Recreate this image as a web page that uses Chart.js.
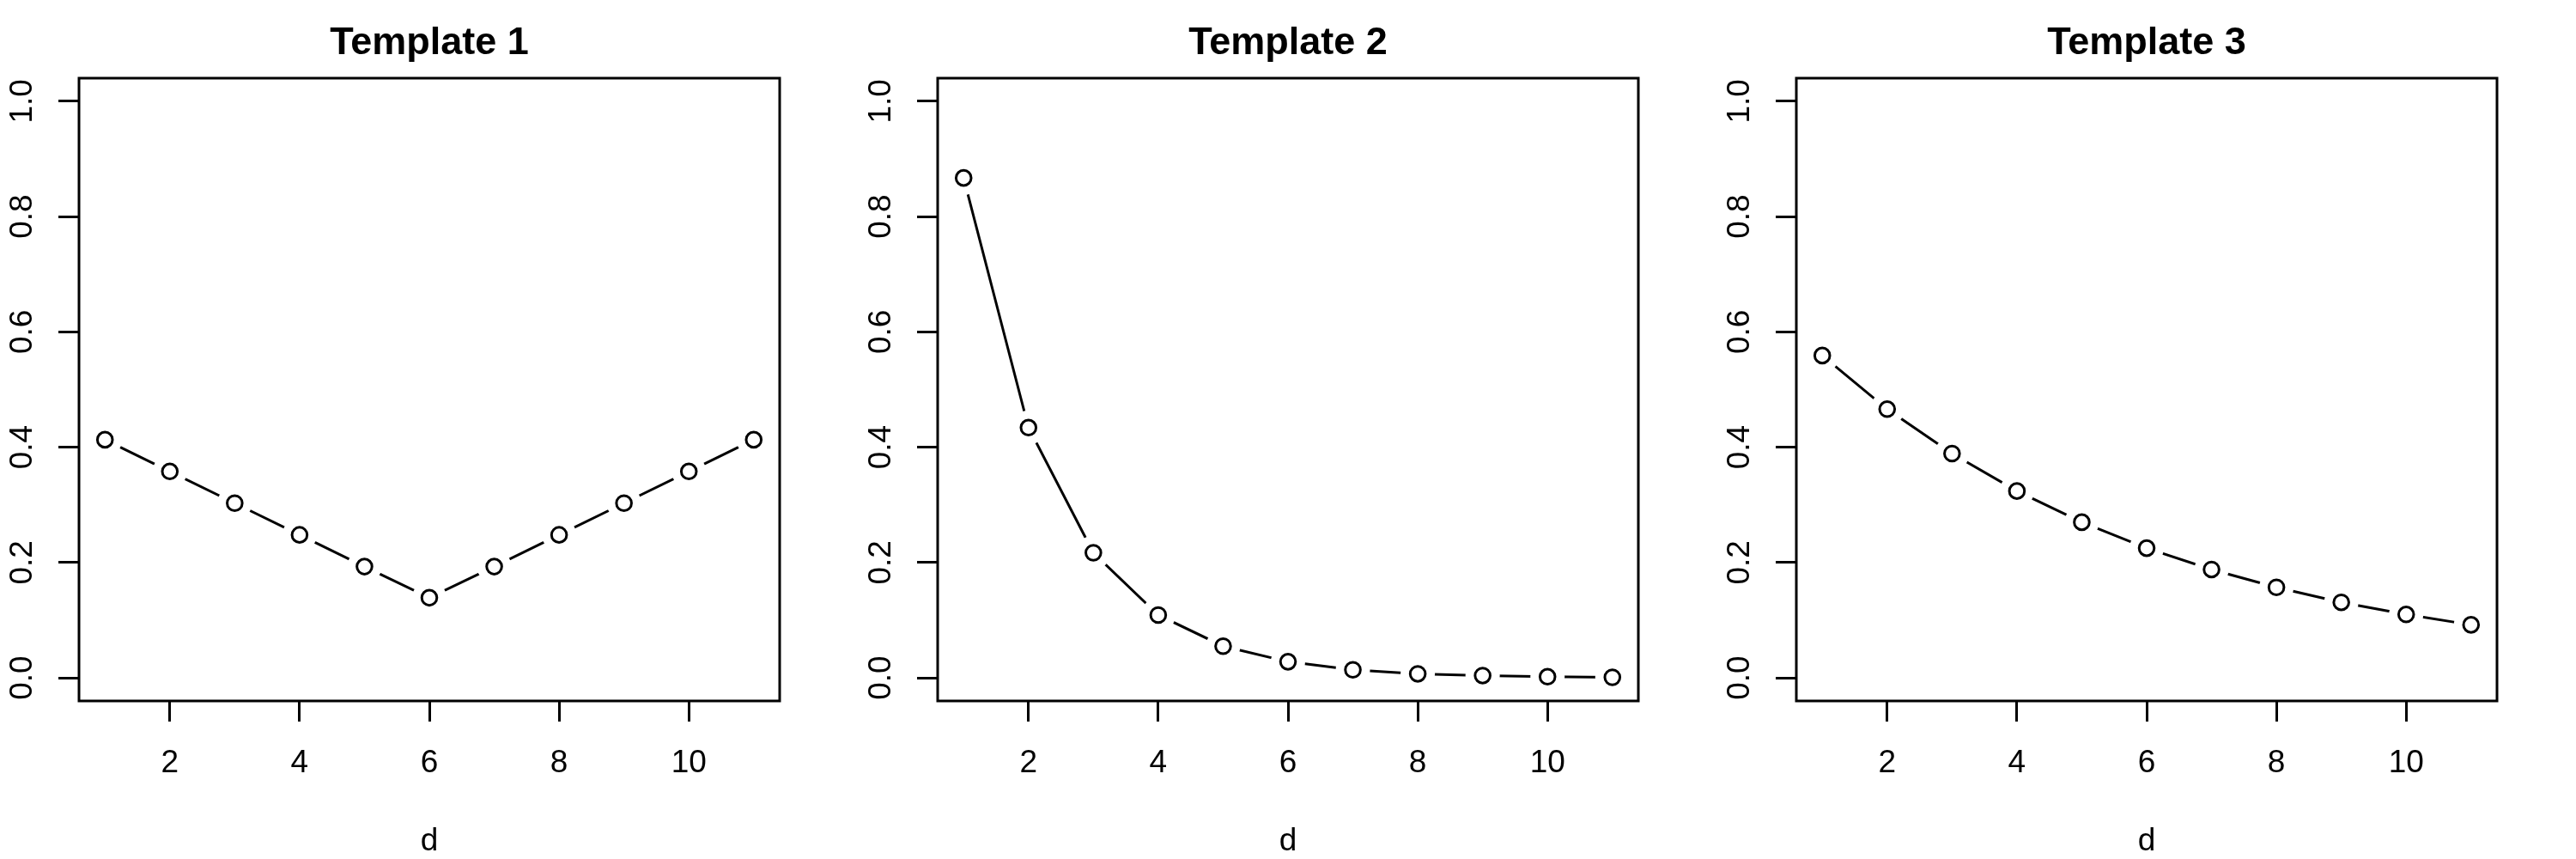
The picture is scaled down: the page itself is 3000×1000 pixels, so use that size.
<!DOCTYPE html>
<html>
<head>
<meta charset="utf-8">
<script src="https://cdn.jsdelivr.net/npm/chart.js@4.4.1/dist/chart.umd.min.js"></script>
<style>
  html, body { margin: 0; padding: 0; background: #fff; }
  .row { display: flex; width: 3000px; height: 1000px; }
  .row canvas { display: block; }
</style>
</head>
<body>
<div class="row">
  <canvas id="chart1" width="1000" height="1000"></canvas>
  <canvas id="chart2" width="1000" height="1000"></canvas>
  <canvas id="chart3" width="1000" height="1000"></canvas>
</div>
<script>
const dValues = [1, 2, 3, 4, 5, 6, 7, 8, 9, 10, 11];

const template1 = [0.413, 0.358, 0.303, 0.248, 0.193, 0.139, 0.193, 0.248, 0.303, 0.358, 0.413];
const template2 = [0.867, 0.434, 0.217, 0.109, 0.055, 0.028, 0.014, 0.007, 0.004, 0.002, 0.001];
const template3 = [0.559, 0.466, 0.389, 0.324, 0.270, 0.225, 0.188, 0.157, 0.131, 0.110, 0.092];

const titles = ["Template 1", "Template 2", "Template 3"];
const xLabel = "d";

const xTicks = [2, 4, 6, 8, 10];
const yTicks = [0, 0.2, 0.4, 0.6, 0.8, 1.0];
const yTickLabels = ["0.0", "0.2", "0.4", "0.6", "0.8", "1.0"];

const FONT = '"Liberation Sans", Arial, Helvetica, sans-serif';

// box, title and tick labels the way base R draws them
const rAxesPlugin = {
  id: "rAxes",
  afterDraw(chart) {
    const ctx = chart.ctx;
    const area = chart.chartArea;
    const xs = chart.scales.x;
    const ys = chart.scales.y;
    const midX = (area.left + area.right) / 2;

    ctx.save();
    ctx.strokeStyle = "#000";
    ctx.lineWidth = 3;
    ctx.strokeRect(area.left, area.top, area.right - area.left, area.bottom - area.top);

    ctx.fillStyle = "#000";

    ctx.font = "bold 45px " + FONT;
    ctx.textAlign = "center";
    ctx.textBaseline = "alphabetic";
    ctx.fillText(chart.options.plugins.rAxes.title, midX, 63);

    ctx.font = "37px " + FONT;
    xTicks.forEach(v => {
      ctx.fillText(String(v), xs.getPixelForValue(v), 899);
    });

    ctx.fillText(xLabel, midX, 990);

    yTicks.forEach((v, i) => {
      ctx.save();
      ctx.translate(37, ys.getPixelForValue(v));
      ctx.rotate(-Math.PI / 2);
      ctx.fillText(yTickLabels[i], 0, 0);
      ctx.restore();
    });

    ctx.restore();
  }
};


function drawTemplate(canvasId, title, values) {
  const canvas = document.getElementById(canvasId);
  if (!canvas) return;

  const points = dValues.map((d, i) => ({ x: d, y: values[i] }));

  return new Chart(canvas, {
    type: "scatter",
    data: {
      datasets: [
        {
          data: points,
          showLine: true,
          borderColor: "#000",
          borderWidth: 3,
          pointRadius: 0,
          order: 3
        },
        {
          // white halo so the line stops short of each circle
          data: points,
          showLine: false,
          pointRadius: 20,
          pointBorderWidth: 0,
          pointBackgroundColor: "#fff",
          order: 2
        },
        {
          data: points,
          showLine: false,
          pointRadius: 8.8,
          pointBorderWidth: 3,
          pointBorderColor: "#000",
          pointBackgroundColor: "#fff",
          order: 1
        }
      ]
    },
    options: {
      responsive: false,
      animation: false,
      events: [],
      layout: {
        padding: { left: 0, top: 91, right: 92, bottom: 0 }
      },
      plugins: {
        legend: { display: false },
        tooltip: { enabled: false },
        rAxes: { title: title }
      },
      scales: {
        x: {
          type: "linear",
          min: 0.6,
          max: 11.4,
          afterBuildTicks: s => { s.ticks = xTicks.map(v => ({ value: v })); },
          afterFit: s => { s.height = 184; },
          ticks: { display: false },
          border: { display: false },
          grid: {
            drawOnChartArea: false,
            drawTicks: true,
            tickLength: 24,
            lineWidth: 3,
            color: "#000"
          }
        },
        y: {
          type: "linear",
          min: -0.04,
          max: 1.04,
          afterBuildTicks: s => { s.ticks = yTicks.map(v => ({ value: v })); },
          afterFit: s => { s.width = 92; },
          ticks: { display: false },
          border: { display: false },
          grid: {
            drawOnChartArea: false,
            drawTicks: true,
            tickLength: 24,
            lineWidth: 3,
            color: "#000"
          }
        }
      }
    },
    plugins: [rAxesPlugin]
  });
}


document.addEventListener("DOMContentLoaded", () => {
  drawTemplate("chart1", titles[0], template1);
  drawTemplate("chart2", titles[1], template2);
  drawTemplate("chart3", titles[2], template3);
});
</script>
</body>
</html>
